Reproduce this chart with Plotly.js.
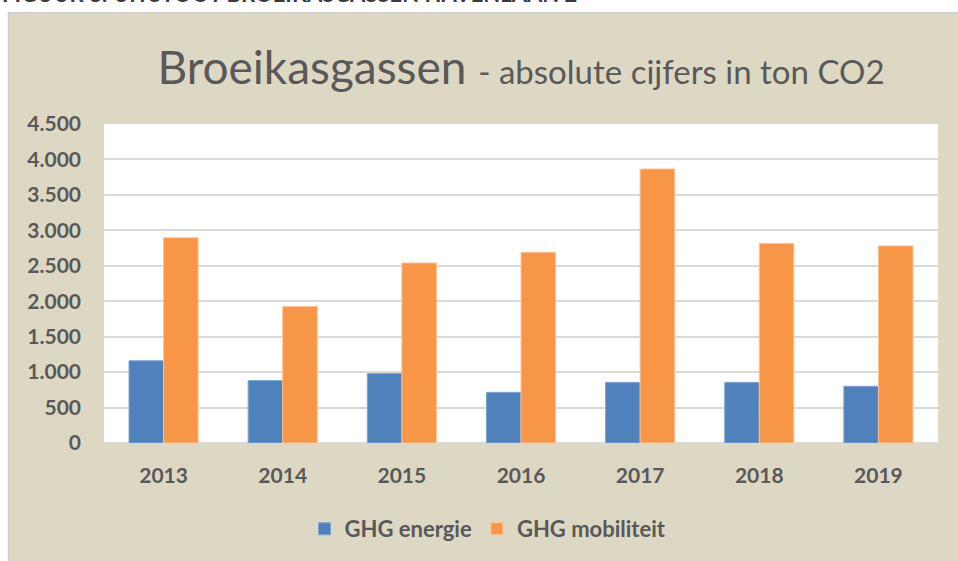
<!DOCTYPE html>
<html>
<head>
<meta charset="utf-8">
<script src="https://cdn.plot.ly/plotly-3.0.1.min.js"></script>
<style>html,body{margin:0;padding:0;background:#fff;}#chart{width:958px;height:561px;}</style>
</head>
<body>
<div id="chart"></div>
<script>
var years = ["2013", "2014", "2015", "2016", "2017", "2018", "2019"];
var ghgEnergie = [1160, 880, 980, 715, 855, 855, 800];
var ghgMobiliteit = [2895, 1925, 2540, 2690, 3865, 2815, 2780];
var seriesNames = ["GHG energie", "GHG mobiliteit"];
var yTicks = [0, 500, 1000, 1500, 2000, 2500, 3000, 3500, 4000, 4500];

var W = 958, H = 561;
var mL = 104, mR = 20, mT = 124, mB = 117;
var pw = W - mL - mR, ph = H - mT - mB;
function px(x) { return (x - mL) / pw; }
function py(y) { return (H - mB - y) / ph; }

var grey = '#595959';
var fontFam = 'Lato, "Open Sans", sans-serif';

var traces = [
  {
    type: 'bar', x: years, y: ghgEnergie, name: seriesNames[0],
    marker: {color: '#4F81BD', line: {color: '#7ea3d2', width: 1}},
    hoverinfo: 'skip'
  },
  {
    type: 'bar', x: years, y: ghgMobiliteit, name: seriesNames[1],
    marker: {color: '#F79646', line: {color: '#fbc394', width: 1}},
    hoverinfo: 'skip'
  }
];

var layout = {
  width: W, height: H,
  margin: {l: mL, r: mR, t: mT, b: mB, pad: 0},
  paper_bgcolor: '#DDD8C3',
  plot_bgcolor: '#FFFFFF',
  separators: ',.',
  font: {family: fontFam, color: grey},
  barmode: 'group',
  bargap: 0.42,
  bargroupgap: 0,
  showlegend: true,
  title: {
    text: 'Broeikasgassen <span style="font-size:33px">- absolute cijfers in ton CO2</span>',
    font: {family: fontFam, size: 46, color: grey},
    xref: 'paper', x: 0.5, xanchor: 'center',
    yref: 'paper', y: 1, yanchor: 'bottom',
    pad: {b: 40}
  },
  xaxis: {
    type: 'category',
    showgrid: false, zeroline: false, showline: false,
    ticks: '',
    tickfont: {family: fontFam, size: 21, color: grey, weight: 'bold'},
    ticklabelstandoff: 18,
    fixedrange: true
  },
  yaxis: {
    range: [0, 4500],
    tickmode: 'array', tickvals: yTicks,
    tickformat: ',d',
    showgrid: true, gridcolor: '#D9D9D9', gridwidth: 2,
    zeroline: true, zerolinecolor: '#D9D9D9', zerolinewidth: 2,
    showline: false, ticks: '',
    tickfont: {family: fontFam, size: 21, color: grey, weight: 'bold'},
    ticklabelstandoff: 22,
    fixedrange: true
  },
  legend: {
    orientation: 'h',
    x: px(488), xanchor: 'center',
    y: py(529), yanchor: 'middle',
    font: {family: fontFam, size: 22, color: grey, weight: 'bold'},
    bgcolor: 'rgba(0,0,0,0)',
    itemwidth: 30,
    traceorder: 'normal'
  },
  shapes: [
    {type: 'rect', xref: 'paper', yref: 'paper', layer: 'above',
     x0: px(-5), x1: px(W + 5), y0: py(12), y1: py(-5),
     fillcolor: '#FFFFFF', line: {width: 0}},
    {type: 'rect', xref: 'paper', yref: 'paper', layer: 'above',
     x0: px(-5), x1: px(8), y0: py(H + 5), y1: py(-5),
     fillcolor: '#FFFFFF', line: {width: 0}},
    {type: 'rect', xref: 'paper', yref: 'paper', layer: 'above',
     x0: px(8.5), x1: px(W + 5), y0: py(H + 5), y1: py(12.5),
     fillcolor: 'rgba(0,0,0,0)', line: {color: '#D0D0D0', width: 1.5}}
  ],
  annotations: [
    {text: 'FIGUUR 8: UITSTOOT BROEIKASGASSEN HAVENLAAN 2',
     xref: 'paper', yref: 'paper', x: px(0), y: py(9),
     xanchor: 'left', yanchor: 'bottom', showarrow: false,
     font: {family: fontFam, size: 22, color: '#3a3a3a', weight: 'bold'}}
  ]
};

Plotly.newPlot('chart', traces, layout, {displayModeBar: false, staticPlot: true});
</script>
</body>
</html>
